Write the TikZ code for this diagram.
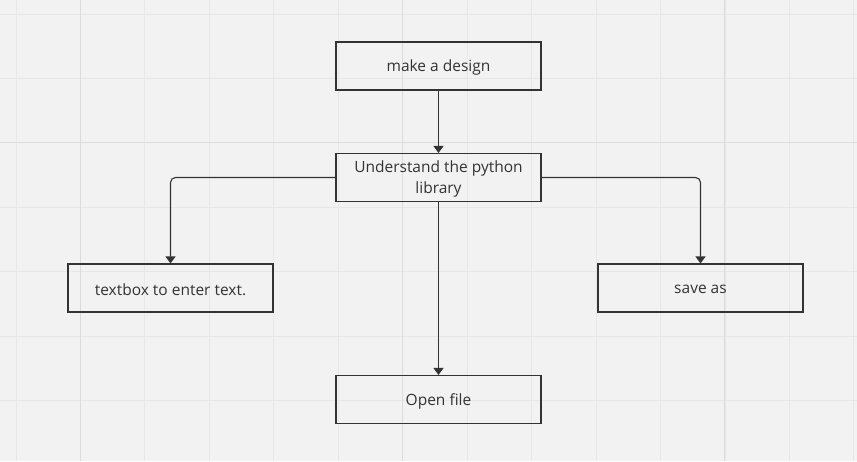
\documentclass[tikz,border=0pt]{standalone}
\usepackage{fontspec}
\setmainfont{Open Sans}
\usetikzlibrary{arrows.meta}
\definecolor{bg}{HTML}{F2F2F2}
\definecolor{gridminor}{HTML}{E7E7E7}
\definecolor{gridmajor}{HTML}{DCDCDC}
\definecolor{ink}{HTML}{333333}
\tikzset{
  box/.style={draw=ink, line width=1.1pt, minimum width=205pt, minimum height=48pt,
    inner sep=0pt},
  lbl/.style={text=ink, font=\fontsize{15.5}{21}\selectfont, align=center, yshift=-1.8pt},
  conn/.style={draw=ink, line width=1.1pt, -{Triangle[width=10pt,length=7pt]}, rounded corners=5pt},
}
\begin{document}
\begin{tikzpicture}[x=1pt,y=-1pt]
\fill[bg] (0,0) rectangle (857,461);
\useasboundingbox (0,0) rectangle (857,461);
% grid
\foreach \k in {0,...,13} {
  \pgfmathsetmacro{\xx}{16+64.45*\k}
  \draw[gridminor, line width=0.9pt] (\xx,0) -- (\xx,461);
}
\foreach \k in {0,...,6} {
  \pgfmathsetmacro{\yy}{14+64.4*\k}
  \draw[gridminor, line width=0.9pt] (0,\yy) -- (857,\yy);
}
\foreach \xx in {80.45,402.7,724.95} \draw[gridmajor, line width=1pt] (\xx,0) -- (\xx,461);
\draw[gridmajor, line width=1pt] (0,142.8) -- (857,142.8);
% nodes
\node[box, label={[lbl]center:make a design}] (design) at (438.5,66) {};
\node[box, label={[lbl]center:Understand the python\\library}] (lib) at (438.5,177.5) {};
\node[box, label={[lbl]center:textbox to enter text.}] (textbox) at (170.5,288) {};
\node[box, label={[lbl]center:save as}] (save) at (700.5,288) {};
\node[box, label={[lbl]center:Open file}] (open) at (438.5,399.5) {};
% connectors
\draw[conn] (design) -- (lib);
\draw[conn] (lib.west) -| (textbox.north);
\draw[conn] (lib.east) -| (save.north);
\draw[conn] (lib) -- (open);
\end{tikzpicture}
\end{document}
